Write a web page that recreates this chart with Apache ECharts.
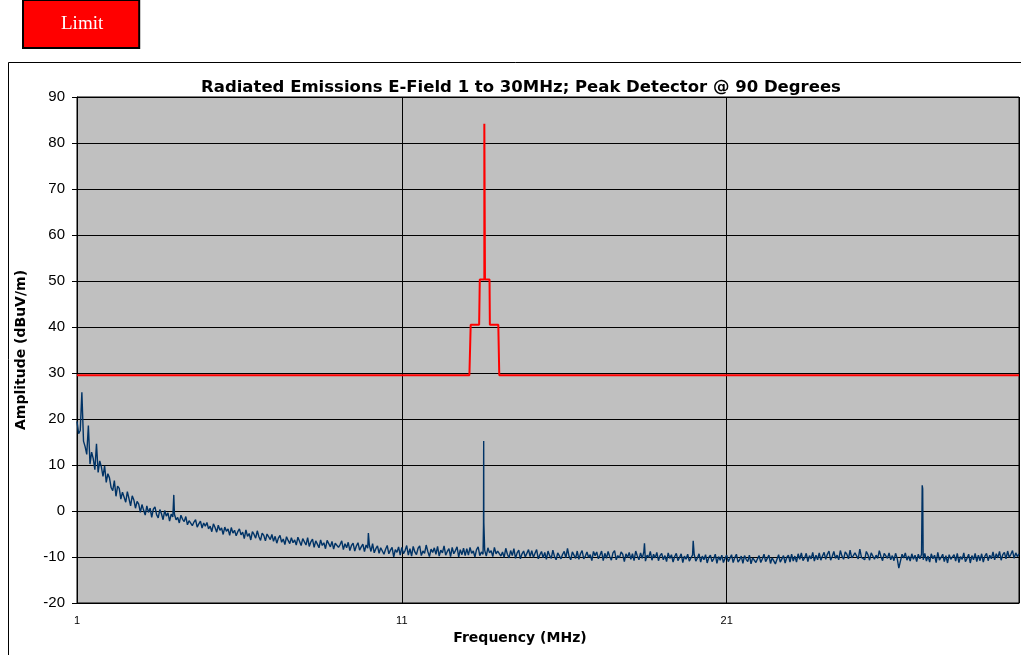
<!DOCTYPE html>
<html>
<head>
<meta charset="utf-8">
<script src="https://cdn.jsdelivr.net/npm/echarts@6/dist/echarts.min.js"></script>
<style>
html,body{margin:0;padding:0;background:#fff;}
#chart{width:1021px;height:655px;}
</style>
</head>
<body>
<div id="chart"></div>
<script>
// ---- data ----
var chartTitle = 'Radiated Emissions E-Field 1 to 30MHz; Peak Detector @ 90 Degrees';
var xTickValues = [1, 11, 21];
var yTickLabels = [-20, -10, 0, 10, 20, 30, 40, 50, 60, 70, 80, 90];

// Limit line (MHz, dBuV/m)
var limitFreq  = [1, 13.08, 13.12, 13.38, 13.40, 13.54, 13.54, 13.56, 13.56, 13.70, 13.71, 13.97, 14.00, 30];
var limitLevel = [29.5, 29.5, 40.5, 40.5, 50.3, 50.3, 84.2, 84.2, 50.3, 50.3, 40.5, 40.5, 29.5, 29.5];

// Measured emission trace, sampled every 0.05 MHz from 1.00 MHz (one row per MHz)
var sweepStartMHz = 1;
var sweepStepMHz = 0.05;
var emissionLevel = [
 19.5,16.8,17.5,25.8,15.2,14,12.3,18.6,10.2,12.8,11.4,9,14.6,8.4,10.9,9.6,7.5,9.8,6.2,8.1,
 7.2,5.1,4.4,6.6,3.2,5.4,4.9,2.6,4.1,3.8,1.9,4.2,2.7,1.1,3.3,2.4,0.6,2.1,1.5,-0.3,
 1.4,0.2,-0.9,1.1,-0.3,0.6,-1.4,0.4,0.9,-0.8,-1.5,0.3,-0.6,-1.9,0.1,-1.1,-0.4,-2.2,-0.7,-1.3,
 -0.7,-1.9,-1.4,-2.6,-0.9,-1.8,-2.3,-1.2,-3,-2.1,-1.7,-3.2,-2.4,-1.9,-3.5,-2.8,-2.2,-3.7,-2.6,-3.3,
 -2.5,-3.9,-3.3,-4.5,-2.8,-3.6,-4.6,-3.1,-4.2,-3.7,-5.1,-3.5,-4.4,-3.9,-5.3,-3.6,-4.8,-4.2,-5.4,-4.5,
 -3.9,-5.2,-4.6,-6,-4.1,-5.5,-4.9,-6.3,-4.5,-5.1,-5.9,-4.3,-5.6,-6.4,-4.8,-5.3,-6.5,-5,-4.7,-6.2,
 -5.1,-6.6,-5.5,-7,-5.9,-5.3,-6.8,-6.1,-7.3,-5.6,-6.4,-7.1,-5.8,-6.9,-6.3,-7.4,-5.7,-6.6,-7.5,-6,
 -6.2,-7.4,-5.8,-7.7,-6.7,-6.1,-7.9,-6.5,-7.2,-8,-6.3,-7.5,-6.9,-8.2,-6.4,-7.1,-7.8,-6.6,-8.3,-7,
 -6.7,-7.9,-7.3,-6.5,-8.4,-7.1,-8,-6.8,-8.6,-7.5,-7,-8.7,-7.6,-6.9,-8.5,-7.8,-7.2,-8.8,-7.4,-8.1,
 -7.4,-8.8,-7.1,-9.1,-8.2,-7.6,-9.2,-8,-7.7,-9.4,-8.3,-7.5,-9.3,-8.5,-7.9,-10,-8.4,-9,-7.8,-9.6,
 -7.9,-9.3,-8.6,-7.5,-9.6,-8.2,-9.8,-7.7,-8.9,-9.5,-8.1,-7.6,-9.7,-8.7,-9.2,-7.4,-8.8,-9.9,-8.3,-9,
 -8,-9.4,-7.7,-9.8,-8.5,-9.1,-7.6,-9.6,-8.8,-8.2,-9.9,-7.9,-9.3,-8.6,-7.8,-10,-8.4,-9.5,-8.1,-9.7,
 -8.2,-9.6,-7.9,-9.2,-8.7,-10,-8.4,-7.8,-9.7,-8.9,-9.4,-8.5,-9.8,-8,-9.1,-8.6,-9.9,-7.9,-9.3,-8.7,
 -8.3,-9.8,-8.9,-10.1,-8.1,-9.4,-10.2,-8.6,-9.7,-8.2,-10.3,-9.1,-8.5,-10.4,-9.3,-8.7,-10,-9.6,-8.4,-9.9,
 -8.6,-10.1,-9.2,-8.4,-10.4,-9.5,-8.8,-10.2,-9,-10.5,-8.7,-9.7,-10.3,-8.5,-9.9,-10.6,-9.1,-8.8,-10.4,-9.4,
 -8.8,-10.2,-8.1,-9.9,-10.6,-8.9,-9.6,-10.3,-8.7,-10.5,-9.3,-8.6,-10.4,-9.8,-8.9,-10.1,-9.5,-10.8,-8.8,-9.7,
 -8.9,-10.4,-9.6,-8.7,-10.8,-9.2,-10.3,-8.8,-9.9,-10.7,-9.1,-8.6,-10.6,-9.7,-10.2,-8.9,-9.4,-11,-9.3,-10.1,
 -9,-10.5,-9.3,-10.8,-8.7,-9.8,-10.6,-9.1,-10.3,-8.9,-10.9,-9.6,-10.1,-8.8,-10.7,-9.4,-10.2,-9,-10.8,-9.7,
 -9.2,-10.6,-9.7,-11,-9.1,-10.3,-9.5,-11.1,-9.9,-9.2,-10.8,-10.1,-9.3,-11.2,-9.8,-10.5,-9.4,-10.9,-10.2,-9.6,
 -9.4,-10.9,-10.2,-9.3,-11.1,-9.8,-10.6,-9.5,-11.3,-10.1,-9.6,-11,-10.4,-9.4,-11.4,-9.9,-10.7,-9.6,-11.2,-10.3,
 -9.6,-11,-10.3,-9.5,-11.2,-10.1,-9.4,-11.1,-10.6,-9.8,-11.4,-9.7,-10.5,-11,-9.6,-11.5,-10.2,-9.9,-11.2,-10.4,
 -9.7,-11.2,-10.4,-9.4,-11,-10.8,-9.6,-11.4,-10.2,-9.8,-11.5,-10.5,-9.5,-11.1,-10.7,-9.7,-11.3,-10.1,-9.6,-11.1,
 -9.4,-10.9,-9.8,-11.1,-9.3,-10.5,-9.1,-10.8,-10.2,-9.2,-11,-9.7,-10.4,-9,-10.9,-9.6,-10.6,-9.1,-10.7,-9.8,
 -9,-10.5,-9.4,-8.7,-10.7,-9.9,-8.8,-10.3,-9.6,-10.6,-8.6,-9.8,-10.5,-8.9,-9.4,-10.4,-8.5,-10.2,-9.7,-9.1,
 -8.9,-10.4,-8.3,-10.1,-9.7,-10.6,-8.8,-9.5,-10.7,-9.1,-8.7,-10.5,-9.6,-10.3,-8.6,-9.9,-10.8,-9.2,-8.9,-10.3,
 -9.1,-10.6,-9.7,-10.8,-9.2,-10.3,-12.4,-10.9,-9.4,-10.2,-9.1,-10.7,-9.8,-10.9,-9.3,-10.5,-9.6,-11,-9.4,-10.4,
 -9.4,-10.6,-9.2,-10.9,-9.8,-11.1,-9.3,-10.4,-9.6,-11.2,-9,-10.7,-10.1,-9.4,-11,-9.7,-11.3,-9.5,-10.5,-10.8,
 -9.5,-10.9,-9.2,-11.2,-9.9,-10.5,-9.1,-11,-10.3,-9.4,-11.3,-9.7,-10.6,-9.2,-11,-9.6,-10.8,-9.3,-11.1,-9.8,
 -9.2,-10.8,-9.6,-10.4,-8.9,-10.6,-9.3,-10.2,-8.8,-10.7,-9.5,-9,-10.4,-8.7,-10.1,-9.4,-8.6,-10.3,-9.1,-9.9,
 -9.3
];
// Narrow spikes between sweep samples (MHz, dBuV/m)
var emissionSpikes = [
 [3.98, 3.5], [9.97, -4.8], [13.515, -3], [13.52, 15.2], [13.525, -2.5],
 [18.47, -7], [19.97, -6.5], [27.02, 5.6], [27.035, 4.8]
];

// ---- build series data ----
var emissionData = emissionLevel.map(function (v, i) {
  return [+(sweepStartMHz + i * sweepStepMHz).toFixed(3), v];
}).concat(emissionSpikes).sort(function (a, b) { return a[0] - b[0]; });
var limitData = limitFreq.map(function (f, i) { return [f, limitLevel[i]]; });

var chart = echarts.init(document.getElementById('chart'), null, {renderer: 'canvas'});
var font = 'Arial, "Liberation Sans", Helvetica, sans-serif';
var wideFont = '"DejaVu Sans", Verdana, sans-serif';
chart.setOption({
  animation: false,
  backgroundColor: '#ffffff',
  title: {
    text: chartTitle,
    left: 516, top: 74, textAlign: 'center',
    textStyle: {fontFamily: wideFont, fontSize: 16.5, fontWeight: 'bold', color: '#000'}
  },
  legend: {
    left: 23, top: 0,
    data: [{name: 'Limit', icon: 'none'}],
    itemWidth: 0, itemHeight: 16,
    backgroundColor: '#ff0000',
    borderColor: '#000', borderWidth: 2,
    padding: [15, 36, 14, 33],
    selectedMode: false,
    textStyle: {color: '#ffffff', fontFamily: '"Liberation Serif", "Times New Roman", serif', fontSize: 19}
  },
  grid: {
    left: 77, right: 2, top: 97, bottom: 52,
    show: true, backgroundColor: '#c0c0c0', borderColor: '#000', borderWidth: 1
  },
  xAxis: {
    type: 'value', min: 1, max: 30, interval: 10,
    name: 'Frequency (MHz)', nameLocation: 'middle', nameGap: 28,
    nameTextStyle: {fontFamily: wideFont, fontSize: 14, fontWeight: 'bold', color: '#000', padding: [0, 56, 0, 0]},
    axisLine: {show: true, onZero: false, lineStyle: {color: '#000', width: 1}},
    axisTick: {show: false},
    axisLabel: {
      fontFamily: font, fontSize: 11, color: '#000', margin: 12, showMaxLabel: false,
      formatter: function (v) { return xTickValues.indexOf(v) >= 0 ? String(v) : ''; }
    },
    splitLine: {show: true, lineStyle: {color: '#000', width: 1}}
  },
  yAxis: {
    type: 'value', min: -20, max: 90, interval: 10,
    name: 'Amplitude (dBuV/m)', nameLocation: 'middle', nameGap: 49, nameRotate: 90,
    nameTextStyle: {fontFamily: wideFont, fontSize: 14, fontWeight: 'bold', color: '#000'},
    axisLine: {show: true, lineStyle: {color: '#000', width: 1}},
    axisTick: {show: true, inside: false, length: 5, lineStyle: {color: '#000'}},
    axisLabel: {
      fontFamily: font, fontSize: 15, color: '#000', margin: 12,
      formatter: function (v) { return yTickLabels.indexOf(v) >= 0 ? String(v) : ''; }
    },
    splitLine: {show: true, lineStyle: {color: '#000', width: 1}}
  },
  graphic: [{
    type: 'rect', silent: true, z: -1,
    shape: {x: 8.5, y: 62.5, width: 1030, height: 620},
    style: {fill: 'none', stroke: '#000', lineWidth: 1}
  }],
  series: [{
    name: 'Emission', type: 'line', data: emissionData,
    showSymbol: false, symbol: 'none', sampling: null,
    lineStyle: {color: '#003366', width: 1.4}, z: 2
  }, {
    name: 'Limit', type: 'line', data: limitData,
    showSymbol: false, symbol: 'none',
    itemStyle: {color: '#ff0000'},
    lineStyle: {color: '#ff0000', width: 2}, z: 3
  }]
});
</script>
</body>
</html>
